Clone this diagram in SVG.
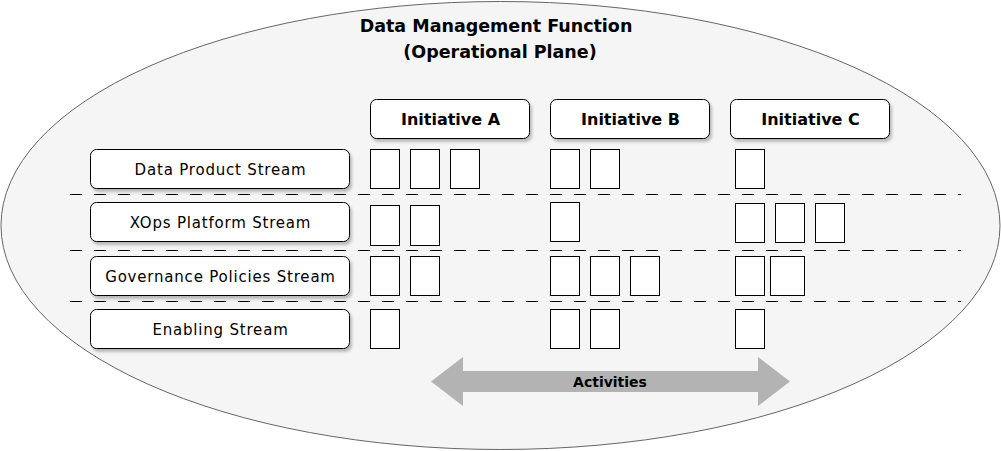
<svg xmlns="http://www.w3.org/2000/svg" width="1001" height="451" viewBox="0 0 1001 451">
<defs>
<style>
.hdr{font-family:"DejaVu Sans",sans-serif;font-weight:bold;fill:#000;text-anchor:middle;dominant-baseline:central}
.lbl{font-family:"DejaVu Sans",sans-serif;font-size:15px;fill:#000;text-anchor:middle;dominant-baseline:central;letter-spacing:0.8px}
.rbox{fill:#fff;stroke:#000;stroke-width:1;filter:url(#sh)}
.act{fill:#fff;stroke:#000;stroke-width:1}
.sep{stroke:#000;stroke-width:1;stroke-dasharray:12 12;fill:none}
</style>
<filter id="sh" x="-10%" y="-20%" width="130%" height="160%">
<feGaussianBlur in="SourceAlpha" stdDeviation="1.5"/>
<feOffset dx="2" dy="3" result="b"/>
<feComponentTransfer><feFuncA type="linear" slope="0.25"/></feComponentTransfer>
<feMerge><feMergeNode/><feMergeNode in="SourceGraphic"/></feMerge>
</filter>
</defs>
<g id="plane">
<ellipse cx="500.5" cy="225.5" rx="499.5" ry="224" fill="#f5f5f5" stroke="#666666" stroke-width="1"/>
<text class="hdr" x="496" y="26" font-size="17.5">Data Management Function</text>
<text class="hdr" x="500" y="52" font-size="17.5">(Operational Plane)</text>
</g>
<g id="connectors">
<line class="sep" x1="70" y1="194.5" x2="961" y2="194.5"/>
<line class="sep" x1="70" y1="250.5" x2="961" y2="250.5"/>
<line class="sep" x1="70" y1="301.5" x2="961" y2="301.5"/>
</g>
<g id="initiative-a"><rect class="rbox" x="370.5" y="99.5" width="159" height="39" rx="6"/><text class="hdr" x="450.5" y="119" font-size="16">Initiative A</text></g>
<g id="initiative-b"><rect class="rbox" x="550.5" y="99.5" width="159" height="39" rx="6"/><text class="hdr" x="630.5" y="119" font-size="16">Initiative B</text></g>
<g id="initiative-c"><rect class="rbox" x="730.5" y="99.5" width="159" height="39" rx="6"/><text class="hdr" x="810.5" y="119" font-size="16">Initiative C</text></g>
<g id="stream-data-product"><rect class="rbox" x="90.5" y="149.5" width="259" height="39" rx="6"/><text class="lbl" x="220.5" y="169.5">Data Product Stream</text></g>
<g id="stream-xops"><rect class="rbox" x="90.5" y="202.5" width="259" height="39" rx="6"/><text class="lbl" x="220.5" y="222.5">XOps Platform Stream</text></g>
<g id="stream-governance"><rect class="rbox" x="90.5" y="256.5" width="259" height="39" rx="6"/><text class="lbl" x="220.5" y="276.5">Governance Policies Stream</text></g>
<g id="stream-enabling"><rect class="rbox" x="90.5" y="309.5" width="259" height="39" rx="6"/><text class="lbl" x="220.5" y="329.5">Enabling Stream</text></g>
<g id="activities-row1">
<rect class="act" x="370.5" y="149.5" width="29" height="39"/>
<rect class="act" x="410.5" y="149.5" width="29" height="39"/>
<rect class="act" x="450.5" y="149.5" width="29" height="39"/>
<rect class="act" x="550.5" y="149.5" width="29" height="39"/>
<rect class="act" x="590.5" y="149.5" width="29" height="39"/>
<rect class="act" x="735.5" y="149.5" width="29" height="39"/>
</g>
<g id="activities-row2">
<rect class="act" x="370.5" y="205.5" width="29" height="40"/>
<rect class="act" x="410.5" y="205.5" width="29" height="40"/>
<rect class="act" x="550.5" y="202.5" width="29" height="39"/>
<rect class="act" x="735.5" y="203.5" width="29" height="39"/>
<rect class="act" x="775.5" y="203.5" width="29" height="39"/>
<rect class="act" x="815.5" y="203.5" width="29" height="39"/>
</g>
<g id="activities-row3">
<rect class="act" x="370.5" y="256.5" width="29" height="39"/>
<rect class="act" x="410.5" y="256.5" width="29" height="39"/>
<rect class="act" x="550.5" y="256.5" width="29" height="39"/>
<rect class="act" x="590.5" y="256.5" width="29" height="39"/>
<rect class="act" x="630.5" y="256.5" width="29" height="39"/>
<rect class="act" x="735.5" y="256.5" width="29" height="39"/>
<rect class="act" x="770.5" y="256.5" width="34" height="39"/>
</g>
<g id="activities-row4">
<rect class="act" x="370.5" y="309.5" width="29" height="39"/>
<rect class="act" x="550.5" y="309.5" width="29" height="39"/>
<rect class="act" x="590.5" y="309.5" width="29" height="39"/>
<rect class="act" x="735.5" y="309.5" width="29" height="39"/>
</g>
<g id="activities-arrow">
<polygon points="431,381.5 463,357 463,371 758,371 758,357 790,381.5 758,406 758,392 463,392 463,406" fill="#b3b3b3"/>
<text class="hdr" x="610" y="382" font-size="14">Activities</text>
</g>
</svg>
